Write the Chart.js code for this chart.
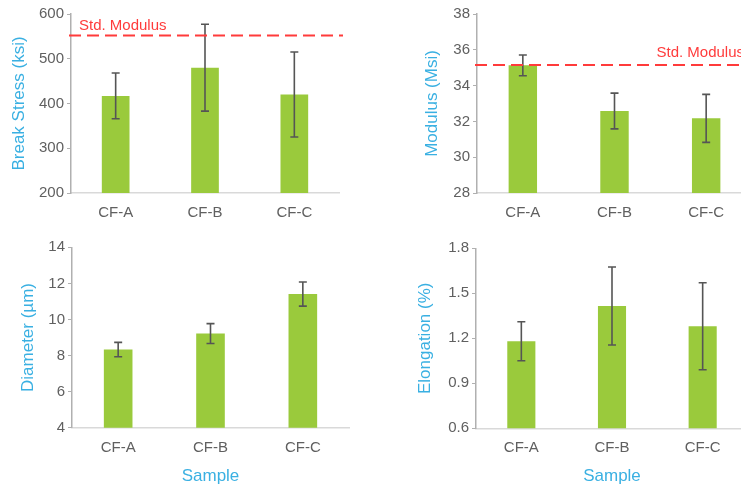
<!DOCTYPE html>
<html>
<head>
<meta charset="utf-8">
<script src="https://cdn.jsdelivr.net/npm/chart.js@4.4.1/dist/chart.umd.min.js"></script>
<style>
  html, body { margin: 0; padding: 0; background: #ffffff; overflow: hidden; }
  #page { position: relative; width: 741px; height: 488px; overflow: hidden; background: #fff; }
  .cell { position: absolute; overflow: hidden; }
  canvas { display: block; }
</style>
</head>
<body>
<div id="page">
  <div class="cell" style="left:0;top:0;width:370px;height:240px"><canvas id="cStress" width="370" height="240"></canvas></div>
  <div class="cell" style="left:370px;top:0;width:371px;height:240px"><canvas id="cModulus" width="420" height="240"></canvas></div>
  <div class="cell" style="left:0;top:230px;width:370px;height:258px"><canvas id="cDiameter" width="370" height="258"></canvas></div>
  <div class="cell" style="left:370px;top:230px;width:371px;height:258px"><canvas id="cElong" width="420" height="258"></canvas></div>
</div>
<script>
// Fibre samples and measured properties (mean and standard deviation)
const samples = ['CF-A', 'CF-B', 'CF-C'];

const breakStress = [417, 480, 420];
const breakStressErr = [51, 97, 95];
const breakStressRef = 552;

const modulus = [35.13, 32.58, 32.17];
const modulusErr = [0.58, 1.0, 1.34];
const modulusRef = 35.15;

const diameter = [8.33, 9.22, 11.41];
const diameterErr = [0.4, 0.55, 0.67];

const elongation = [1.18, 1.415, 1.28];
const elongationErr = [0.13, 0.26, 0.29];

const refLabel = 'Std. Modulus';

Chart.defaults.font.family = "'Liberation Sans', Arial, sans-serif";
Chart.defaults.animation = false;

const BAR = '#9ACA3C';
const TICK = '#606060';
const TITLE = '#3AB0E2';
const RED = '#FF3B3B';

// draws +/- error whiskers on top of each bar
const errorBars = {
  id: 'errorBars',
  afterDatasetsDraw(chart, args, opts) {
    const errs = opts.errors;
    if (!errs) return;
    const meta = chart.getDatasetMeta(0);
    const y = chart.scales.y;
    const vals = chart.data.datasets[0].data;
    const ctx = chart.ctx;
    ctx.save();
    ctx.strokeStyle = '#555555';
    ctx.lineWidth = 1.6;
    meta.data.forEach((bar, i) => {
      const hi = y.getPixelForValue(vals[i] + errs[i]);
      const lo = y.getPixelForValue(vals[i] - errs[i]);
      const x = bar.x;
      ctx.beginPath();
      ctx.moveTo(x, hi); ctx.lineTo(x, lo);
      ctx.moveTo(x - 4, hi); ctx.lineTo(x + 4, hi);
      ctx.moveTo(x - 4, lo); ctx.lineTo(x + 4, lo);
      ctx.stroke();
    });
    ctx.restore();
  }
};

// dashed horizontal reference line with a text label
const refLine = {
  id: 'refLine',
  afterDatasetsDraw(chart, args, opts) {
    if (opts.value == null) return;
    const {ctx, chartArea} = chart;
    const yy = chart.scales.y.getPixelForValue(opts.value);
    ctx.save();
    ctx.strokeStyle = RED;
    ctx.lineWidth = 2;
    ctx.setLineDash([12, 6]);
    ctx.beginPath();
    ctx.moveTo(chartArea.left - 2, yy);
    ctx.lineTo(chartArea.right + 4, yy);
    ctx.stroke();
    ctx.setLineDash([]);
    ctx.fillStyle = RED;
    ctx.font = "15px 'Liberation Sans', Arial, sans-serif";
    ctx.textBaseline = 'middle';
    if (opts.anchor === 'end') {
      ctx.textAlign = 'right';
      ctx.fillText(opts.text, chartArea.right - 8, yy - opts.lift);
    } else {
      ctx.textAlign = 'left';
      ctx.fillText(opts.text, chartArea.left + 8, yy - opts.lift);
    }
    ctx.restore();
  }
};

function panel(id, p) {
  const canvas = document.getElementById(id);
  const W = canvas.width, H = canvas.height;
  const a = p.area;
  return new Chart(canvas, {
    type: 'bar',
    data: {
      labels: samples,
      datasets: [{
        data: p.values,
        backgroundColor: BAR,
        borderWidth: 0,
        barPercentage: 0.31,
        categoryPercentage: 1
      }]
    },
    options: {
      responsive: false,
      devicePixelRatio: 1,
      layout: { padding: { left: 0, top: a.top, right: W - a.right, bottom: 0 } },
      plugins: {
        legend: { display: false },
        tooltip: { enabled: false },
        errorBars: { errors: p.errors },
        refLine: p.ref || {}
      },
      scales: {
        x: {
          grid: { display: true, drawOnChartArea: false, drawTicks: false },
          border: { display: true, color: '#D9D9D9', width: 1.5 },
          ticks: { color: TICK, font: { size: 15 }, padding: 11 },
          title: p.xTitle ? {
            display: true, text: p.xTitle, color: TITLE,
            font: { size: 17 }, padding: { top: 0, bottom: 1 }
          } : { display: false },
          afterFit(s) { s.height = H - a.bottom; }
        },
        y: {
          min: p.min, max: p.max,
          ticks: {
            stepSize: p.step, color: TICK, font: { size: 15, lineHeight: 1 }, padding: 3,
            callback: p.fmt
          },
          grid: { display: true, drawOnChartArea: false, drawTicks: true, tickLength: 4, color: '#B0B0B0' },
          border: { display: true, color: '#B0B0B0', width: 1.5 },
          title: {
            display: true, text: p.yTitle, color: TITLE,
            font: { size: 17 }, padding: { top: p.yTitlePad, bottom: 0 }
          },
          afterFit(s) { s.width = a.left; }
        }
      }
    },
    plugins: [errorBars, refLine]
  });
}

panel('cStress', {
  values: breakStress, errors: breakStressErr,
  min: 200, max: 600, step: 100, fmt: v => v,
  yTitle: 'Break Stress (ksi)', yTitlePad: 9,
  area: { left: 71, top: 14, right: 339, bottom: 193 },
  ref: { value: breakStressRef, text: refLabel, anchor: 'start', lift: 10 }
});

panel('cModulus', {
  values: modulus, errors: modulusErr,
  min: 28, max: 38, step: 2, fmt: v => v,
  yTitle: 'Modulus (Msi)', yTitlePad: 52,
  area: { left: 107, top: 14, right: 382, bottom: 193 },
  ref: { value: modulusRef, text: refLabel, anchor: 'end', lift: 12 }
});

panel('cDiameter', {
  values: diameter, errors: diameterErr,
  min: 4, max: 14, step: 2, fmt: v => v,
  yTitle: 'Diameter (\u00b5m)', yTitlePad: 18, xTitle: 'Sample',
  area: { left: 72, top: 17.3, right: 349, bottom: 197.7 }
});

panel('cElong', {
  values: elongation, errors: elongationErr,
  min: 0.6, max: 1.8, step: 0.3, fmt: v => Number(v).toFixed(1),
  yTitle: 'Elongation (%)', yTitlePad: 45, xTitle: 'Sample',
  area: { left: 106, top: 18.3, right: 378, bottom: 198.3 }
});
</script>
</body>
</html>
